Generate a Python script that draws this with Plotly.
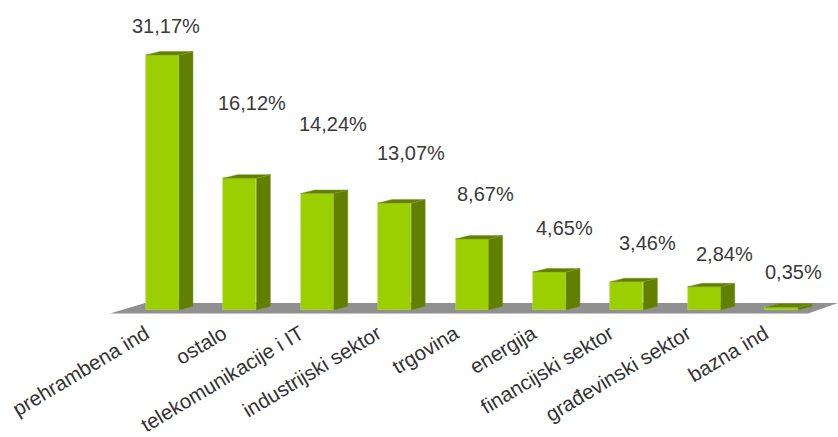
import plotly.graph_objects as go

categories = ["prehrambena ind", "ostalo", "telekomunikacije i IT", "industrijski sektor",
              "trgovina", "energija", "financijski sektor", "građevinski sektor", "bazna ind"]
values = [31.17, 16.12, 14.24, 13.07, 8.67, 4.65, 3.46, 2.84, 0.35]
labels = ["31,17%", "16,12%", "14,24%", "13,07%", "8,67%", "4,65%", "3,46%", "2,84%", "0,35%"]

# label offsets from the top of each bar, in pixels
label_dx = [3, 12, 16, 16, 13, 15, 21, 20, 12]
label_dy = [29, 75, 70, 50, 45, 44, 39, 33, 35]

W, H = 838, 437
PLOT_H = 314
PX_X = 77.4
PX_Y = 8.18
X0_PX = 162.5
Y0_PX = 310
xr = [-X0_PX / PX_X, (W - X0_PX) / PX_X]
yr = [(Y0_PX - PLOT_H) / PX_Y, Y0_PX / PX_Y]
hw = 16.5 / PX_X
dx = 14 / PX_X
dy = 3.5 / PX_Y
idx = list(range(len(values)))

side_x, side_y, top_x, top_y = [], [], [], []
for i, v in zip(idx, values):
    side_x += [i + hw, i + hw + dx, i + hw + dx, i + hw, i + hw, None]
    side_y += [0, dy, v + dy, v, 0, None]
    top_x += [i - hw, i - hw + dx, i + hw + dx, i + hw, i - hw, None]
    top_y += [v, v + dy, v + dy, v, v, None]

fig = go.Figure()
fig.add_bar(x=idx, y=values, width=2 * hw, marker=dict(color="#9BCF00", line=dict(color="#B5D85A", width=0.6)),
            hoverinfo="skip")
for xs, ys in [(side_x, side_y), (top_x, top_y)]:
    fig.add_scatter(x=xs, y=ys, mode="lines", fill="toself", fillcolor="#618000",
                    line=dict(color="#7A9430", width=0.5), hoverinfo="skip")

fx = lambda p: (p - X0_PX) / PX_X
fy = lambda p: (Y0_PX - p) / PX_Y
fig.add_shape(type="path", layer="below", line_width=0, fillcolor="#909090",
              path=f"M {fx(110)} {fy(313.5)} L {fx(145)} {fy(303)} L {fx(838)} {fy(303)} L {fx(808)} {fy(313.5)} Z")

for i, v, t, ox, oy in zip(idx, values, labels, label_dx, label_dy):
    fig.add_annotation(x=i, y=v, text=t, showarrow=False, xshift=ox, yshift=oy,
                       font=dict(family="Liberation Sans", size=20, color="#3A3A3A"))

fig.update_layout(
    width=W, height=H, showlegend=False, bargap=0,
    paper_bgcolor="white", plot_bgcolor="white",
    margin=dict(l=0, r=0, t=0, b=H - PLOT_H, autoexpand=False),
)
fig.update_xaxes(range=xr, tickmode="array", tickvals=idx, ticktext=categories, tickangle=-31,
                 showgrid=False, zeroline=False, showline=False, ticks="", ticklabelshift=-17,
                 ticklabelstandoff=3,
                 tickfont=dict(family="Liberation Sans", size=20.5, color="#333333"))
fig.update_yaxes(range=yr, showgrid=False, zeroline=False, showline=False, showticklabels=False, ticks="")
fig.write_html("out.html", config={"displayModeBar": False},
               post_script="document.body.style.margin='0';document.documentElement.style.overflow='hidden';")
